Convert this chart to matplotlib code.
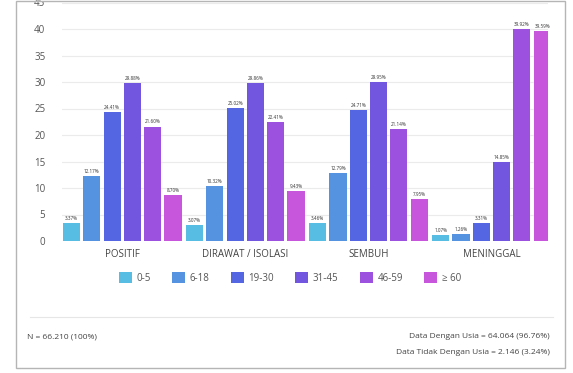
import matplotlib.pyplot as plt
import numpy as np
from matplotlib.patches import Rectangle, Patch
from matplotlib.lines import Line2D

plt.rcParams['font.family'] = ['Open Sans', 'DejaVu Sans']

# Distribusi usia per status (%)
categories = ["POSITIF", "DIRAWAT / ISOLASI", "SEMBUH", "MENINGGAL"]
age_groups = ["0-5", "6-18", "19-30", "31-45", "46-59", "\u2265 60"]
values = {
    "0-5":   [3.37, 3.07, 3.46, 1.07],
    "6-18":  [12.17, 10.32, 12.79, 1.26],
    "19-30": [24.41, 25.02, 24.71, 3.31],
    "31-45": [29.88, 29.86, 29.95, 14.85],
    "46-59": [21.60, 22.41, 21.14, 39.92],
    "\u2265 60": [8.70, 9.43, 7.95, 39.59],
}
colors = ["#58bde3", "#5592e0", "#5566e2", "#7356e0", "#9c52df", "#c756dd"]
yticks = [0, 5, 10, 15, 20, 25, 30, 35, 40, 45]

W, H = 573, 373
fig = plt.figure(figsize=(W / 100, H / 100), dpi=100)

# panel border
fig.patches.append(Rectangle((16 / W, 1 - 368 / H), (565 - 16) / W, (368 - 1) / H,
                             transform=fig.transFigure, fill=False,
                             edgecolor="#b5b5b5", linewidth=1.0))

ax = fig.add_axes([62 / W, 1 - 241 / H, (548 - 62) / W, (241 - 2.5) / H])
x = np.arange(len(categories))
pitch = 0.165
width = 0.14
for j, g in enumerate(age_groups):
    offs = (j - 2.5) * pitch
    bars = ax.bar(x + offs, values[g], width, color=colors[j], zorder=3)
    ax.bar_label(bars, labels=[f"{v:.2f}%" for v in values[g]], fontsize=3.3,
                 color="#333333", padding=1.5)

ax.set_ylim(0, 45)
ax.set_xlim(-0.49, 3.46)
ax.set_yticks(yticks)
ax.set_xticks(x)
ax.set_xticklabels(categories, fontsize=7, color="#444444")
ax.tick_params(axis="y", length=0, labelsize=7, labelcolor="#555555", pad=12)
ax.tick_params(axis="x", length=0, pad=6)
ax.grid(axis="y", color="#ebebeb", linewidth=0.8, zorder=0)
for s in ax.spines.values():
    s.set_visible(False)

handles = [Patch(facecolor=c, edgecolor="none") for c in colors]
fig.legend(handles, age_groups, loc="center", ncol=6,
           bbox_to_anchor=(290 / W, 1 - 278 / H), frameon=False,
           fontsize=7, labelcolor="#555555", handlelength=1.3, handleheight=1.3,
           handletextpad=0.5, columnspacing=2.2)

# separator and footer text
fig.add_artist(Line2D([30 / W, 553 / W], [1 - 317 / H, 1 - 317 / H],
                      transform=fig.transFigure, color="#e6e6e6", linewidth=0.8))
fig.text(27 / W, 1 - 337 / H, "N = 66.210 (100%)", fontsize=6, color="#444444",
         va="center", ha="left")
fig.text(550 / W, 1 - 337 / H, "Data Dengan Usia = 64.064 (96.76%)", fontsize=6,
         color="#444444", va="center", ha="right")
fig.text(550 / W, 1 - 352 / H, "Data Tidak Dengan Usia = 2.146 (3.24%)", fontsize=6,
         color="#444444", va="center", ha="right")

fig.savefig("out.png", dpi=100)
